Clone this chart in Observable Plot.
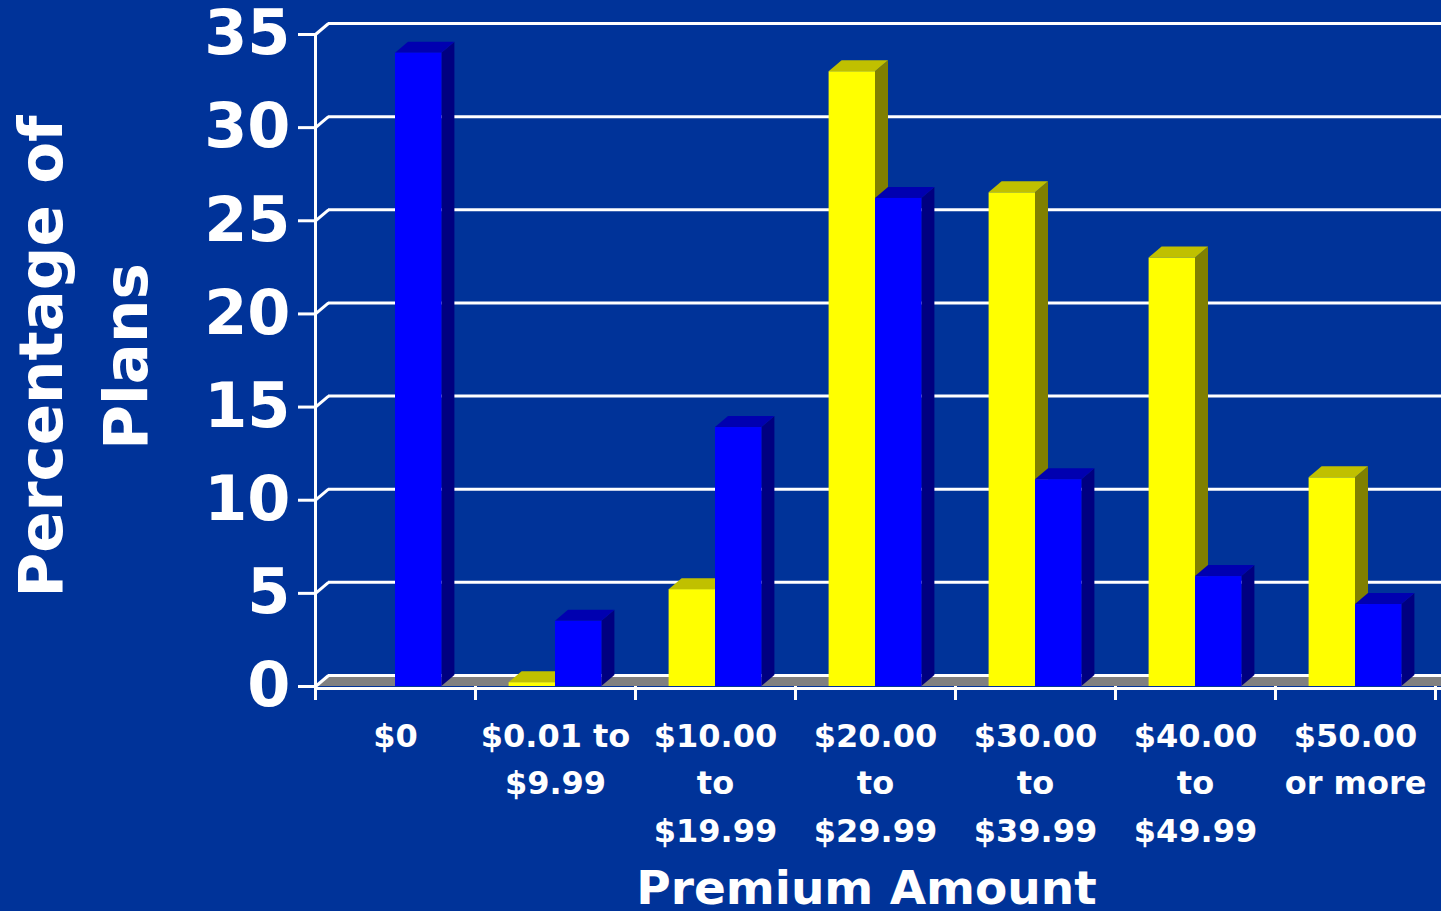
<!DOCTYPE html>
<html><head><meta charset="utf-8">
<script src="https://cdn.jsdelivr.net/npm/d3@7"></script>
<script src="https://cdn.jsdelivr.net/npm/@observablehq/plot@0.6"></script>
<style>html,body{margin:0;padding:0;background:#003399;overflow:hidden}</style>
</head><body><div id="chart"></div>
<script>
// ---- data ----
const categories = ["$0", "$0.01 to $9.99", "$10.00 to $19.99", "$20.00 to $29.99", "$30.00 to $39.99", "$40.00 to $49.99", "$50.00 or more"];
const tickLabels = ["$0", "$0.01 to\n$9.99", "$10.00\nto\n$19.99", "$20.00\nto\n$29.99", "$30.00\nto\n$39.99", "$40.00\nto\n$49.99", "$50.00\nor more"];
const seriesNames = ["Series 1", "Series 2"];
const yellowValues = [null, 0.2, 5.2, 33.0, 26.5, 23.0, 11.2];
const blueValues = [34.0, 3.5, 13.9, 26.2, 11.1, 5.9, 4.4];
const yTicks = [0, 5, 10, 15, 20, 25, 30, 35];
const yTitle = "Percentage of\nPlans";
const xTitle = "Premium Amount";

// ---- layout ----
const W = 1441, H = 911;
const slot = {yellow: [0.21, 0.5], blue: [0.5, 0.79]};
const colors = {
  yellow: {front: "#FFFF00", top: "#C0C000", side: "#808000"},
  blue: {front: "#0000FF", top: "#0000B0", side: "#000080"}
};
const depthX = 13 / 160, depthY = 11 / 18.63;
const xMax = 7 + 6 / 160;

const bars = [];
categories.forEach((c, i) => {
  [["yellow", seriesNames[0], yellowValues[i]], ["blue", seriesNames[1], blueValues[i]]].forEach(([key, s, v]) => {
    if (v == null) return;
    bars.push({id: key + i, key, category: c, series: s, value: v, x1: i + slot[key][0], x2: i + slot[key][1]});
  });
});
const sidePts = [], topPts = [];
for (const b of bars) {
  const v = b.value;
  sidePts.push({id: b.id, key: b.key, x: b.x2, y1: 0, y2: v}, {id: b.id, key: b.key, x: b.x2 + depthX, y1: depthY, y2: v + depthY});
  topPts.push(
    {id: b.id, key: b.key, x: b.x1, y1: v, y2: v},
    {id: b.id, key: b.key, x: b.x1 + depthX, y1: v, y2: v + depthY},
    {id: b.id, key: b.key, x: b.x2, y1: v, y2: v + depthY},
    {id: b.id, key: b.key, x: b.x2 + depthX, y1: v + depthY, y2: v + depthY}
  );
}
const floorPts = [{x: 0, y1: 0, y2: 0}, {x: depthX, y1: 0, y2: depthY}, {x: xMax, y1: 0, y2: depthY}];

const faceMarks = [];
for (const key of ["yellow", "blue"]) {
  faceMarks.push(
    Plot.areaY(sidePts.filter(d => d.key === key), {x: "x", y1: "y1", y2: "y2", z: "id", fill: colors[key].side}),
    Plot.areaY(topPts.filter(d => d.key === key), {x: "x", y1: "y1", y2: "y2", z: "id", fill: colors[key].top}),
    Plot.rect(bars.filter(d => d.key === key), {x1: "x1", x2: "x2", y1: 0, y2: "value", fill: colors[key].front})
  );
}

const chart = Plot.plot({
  width: W, height: H,
  marginLeft: 315, marginRight: 0, marginTop: 34, marginBottom: 225,
  style: {background: "#003399", color: "white", fontFamily: "'DejaVu Sans', sans-serif", fontWeight: "bold", overflow: "visible"},
  x: {domain: [0, xMax]},
  y: {domain: [0, 35]},
  marks: [
    Plot.areaY(floorPts, {x: "x", y1: "y1", y2: "y2", fill: "#808080"}),
    Plot.ruleY(yTicks, {stroke: "white", strokeWidth: 3, dx: 13, dy: -11}),
    Plot.link(yTicks, {x1: 0, y1: d => d, x2: depthX, y2: d => d + depthY, stroke: "white", strokeWidth: 3}),
    ...faceMarks,
    Plot.ruleY([0], {stroke: "white", strokeWidth: 3, dy: 2}),
    Plot.ruleX([0], {y1: 0, y2: 35, stroke: "white", strokeWidth: 3}),
    Plot.axisY(yTicks, {tickSize: 17, tickPadding: 8, fontSize: 62, fontWeight: "bold", strokeWidth: 3, label: null, tickFormat: d => String(d)}),
    Plot.axisX(d3.range(0, 8), {tickSize: 14, strokeWidth: 3, tickFormat: () => "", label: null}),
    Plot.text(tickLabels, {x: (d, i) => i + 0.5, y: 0, text: d => d, dy: 27, lineAnchor: "top", lineHeight: 1.48, fontSize: 32, fontWeight: "bold", fill: "white"}),
    Plot.text([yTitle], {frameAnchor: "left", text: d => d, rotate: -90, dx: -238, dy: -4, lineAnchor: "middle", lineHeight: 1.38, fontSize: 61, fontWeight: "bold", fill: "white", textAnchor: "middle"}),
    Plot.text([xTitle], {frameAnchor: "bottom", text: d => d, dx: -12, dy: 184, lineAnchor: "top", fontSize: 47, fontWeight: "bold", fill: "white"})
  ]
});
document.getElementById("chart").appendChild(chart);
</script>
</body></html>
